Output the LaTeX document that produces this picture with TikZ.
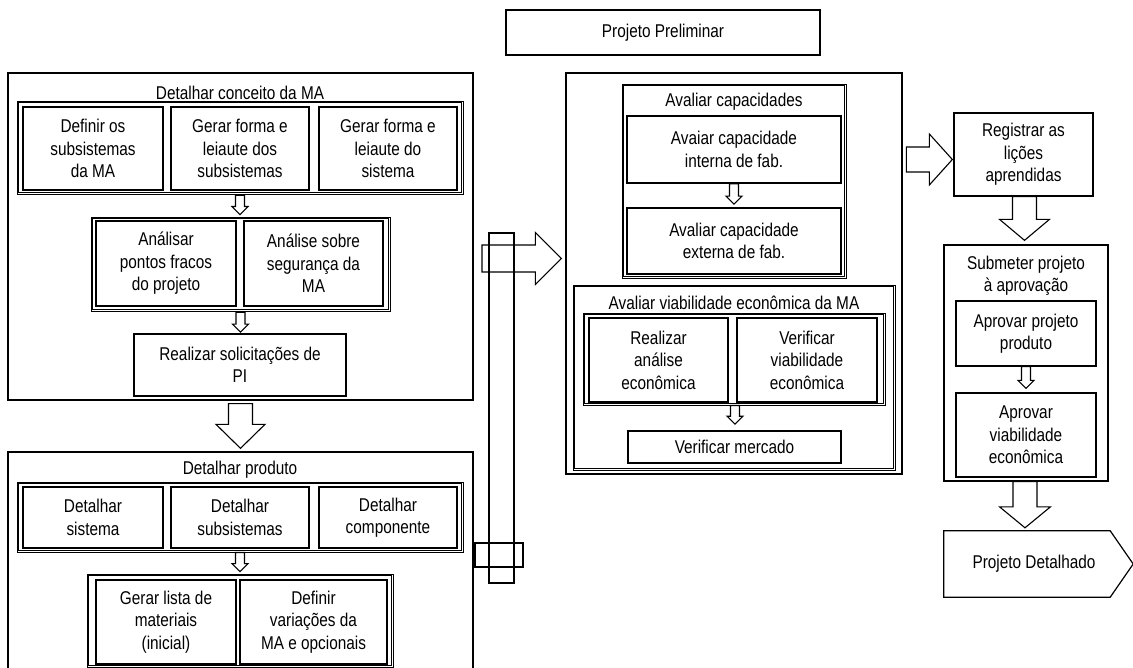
\documentclass[tikz,border=0pt]{standalone}
\usepackage{fontspec}
\setmainfont{Liberation Sans}[FakeStretch=0.83]
\usetikzlibrary{calc}

% rectangle node given by its corners: [style] {name} {x1} {y1} {x2} {y2} {text}
\newcommand{\boxnode}[7][]{%
  \node[#1, minimum width={#5-#3}, minimum height={#6-#4}]
    (#2) at ({(#3+#5)/2},{(#4+#6)/2}) {#7};}
% grouping frame drawn with a double border: {name} {x1} {y1} {x2} {y2}
\newcommand{\framenode}[5]{%
  \boxnode[groupframe]{#1}{#2}{#3}{#4}{#5}{}
  \draw[frameline] ([shift={(2.2,2.2)}]#1.north west) rectangle ([shift={(-2.2,-2.2)}]#1.south east);}
% hollow block arrow pointing down: start, tip, shaft half width, head half width, head length
\newcommand{\blockdown}[6][]{%
  \draw[blockarrow,#1] let \p1=#2, \p2=#3 in
    (\x1-#4pt,\y1) -- (\x1+#4pt,\y1) -- (\x1+#4pt,\y2+#6pt) -- (\x1+#5pt,\y2+#6pt)
    -- (\x1,\y2) -- (\x1-#5pt,\y2+#6pt) -- (\x1-#4pt,\y2+#6pt) -- cycle;}
% hollow block arrow pointing right: start, tip, shaft half width, head half width, head length
\newcommand{\blockright}[6][]{%
  \draw[blockarrow,#1] let \p1=#2, \p2=#3 in
    (\x1,\y1+#4pt) -- (\x2-#6pt,\y1+#4pt) -- (\x2-#6pt,\y1+#5pt) -- (\x2,\y1)
    -- (\x2-#6pt,\y1-#5pt) -- (\x2-#6pt,\y1-#4pt) -- (\x1,\y1-#4pt) -- cycle;}

\begin{document}
\begin{tikzpicture}[x=1pt,y=-1pt,
  every node/.style={font=\fontsize{18.5}{22.5}\selectfont, text=black},
  outerbox/.style={draw, line width=1.3pt, inner sep=0pt, align=center},
  groupframe/.style={draw, line width=0.9pt, inner sep=0pt},
  frameline/.style={line width=0.9pt},
  taskbox/.style={draw, line width=1.6pt, inner sep=0pt, align=center},
  titletext/.style={inner sep=0pt, align=center},
  blockarrow/.style={draw, fill=white, line width=1.1pt, line join=miter},
]
\useasboundingbox (0,0) rectangle (1133,668);

% ---------- left column: Detalhar conceito da MA ----------
\boxnode[outerbox]{b1}{8}{73}{473}{400}{}
\node[titletext] (t1) at (240,93) {Detalhar conceito da MA};
\framenode{g1}{17}{101}{463}{194}
\boxnode[taskbox]{a1}{23}{107}{163}{190}{Definir os\\subsistemas\\da MA}
\boxnode[taskbox]{a2}{171}{107}{309}{190}{Gerar forma e\\leiaute dos\\subsistemas}
\boxnode[taskbox]{a3}{319}{107}{457}{190}{Gerar forma e\\leiaute do\\sistema}
\framenode{g2}{91}{217}{390}{311}
\boxnode[taskbox]{a4}{96}{221}{236}{306}{Análisar\\pontos fracos\\do projeto}
\boxnode[taskbox]{a5}{244}{221}{383}{306}{Análise sobre\\segurança da\\MA}
\boxnode[taskbox]{a6}{134}{334}{346}{396}{Realizar solicitações de\\PI}

% ---------- left column: Detalhar produto ----------
\boxnode[outerbox]{b2}{8}{452}{473}{700}{}
\node[titletext] (t2) at (240,470) {Detalhar produto};
\framenode{g3}{17}{482}{463}{552}
\boxnode[taskbox]{c1}{23}{487}{163}{548}{Detalhar\\sistema}
\boxnode[taskbox]{c2}{171}{487}{309}{548}{Detalhar\\subsistemas}
\boxnode[taskbox]{c3}{319}{487}{457}{548}{Detalhar\\componente}
\framenode{g4}{87}{574}{393}{667}
\boxnode[taskbox]{c4}{96}{580}{236}{664}{Gerar lista de\\materiais\\(inicial)}
\boxnode[taskbox]{c5}{240}{580}{387}{664}{Definir\\variações da\\MA e opcionais}

\blockdown{($(g1.south)+(0,1)$)}{($(g2.north)+(0,-2)$)}{4.5}{8}{8}
\blockdown{($(g2.south)+(0,1)$)}{($(a6.north)+(0,-1)$)}{4.5}{8}{8}
\blockdown{($(b1.south)+(0,3)$)}{($(b2.north)+(0,-3)$)}{12}{24.5}{24}
\blockdown{($(g3.south)+(0,0)$)}{($(g4.north)+(0,-2)$)}{4.5}{8}{8}

% ---------- middle column ----------
\boxnode[outerbox]{pp}{506}{10}{820}{55}{Projeto Preliminar}
\boxnode[draw, line width=1.1pt, inner sep=0pt]{bar}{489}{233}{514}{583}{}
\boxnode[draw, line width=1.1pt, inner sep=0pt]{tab}{475}{543}{523}{567}{}

\boxnode[outerbox]{mid}{566}{73}{902}{474}{}
\framenode{gc}{622}{84}{846}{278}
\node[titletext] (tc) at (734,102) {Avaliar capacidades};
\boxnode[taskbox]{m1}{627}{116}{841}{183}{Avaiar capacidade\\interna de fab.}
\boxnode[taskbox]{m2}{627}{208}{841}{274}{Avaliar capacidade\\externa de fab.}
\framenode{gv}{573}{285}{895}{470}
\node[titletext] (tv) at (734,303) {Avaliar viabilidade econômica da MA};
\framenode{gvi}{583}{313}{885}{405}
\boxnode[taskbox]{m3}{589}{318}{728}{402}{Realizar\\análise\\econômica}
\boxnode[taskbox]{m4}{737}{318}{877}{402}{Verificar\\viabilidade\\econômica}
\boxnode[taskbox]{m5}{628}{431}{841}{463}{Verificar mercado}

\blockdown{($(m1.south)+(0,0)$)}{($(m2.north)+(0,-3)$)}{4.5}{8}{8}
\blockdown{($(gvi.south)+(1,0)$)}{($(m5.north)+(0,-6)$)}{4.5}{8}{8}

\coordinate (hstart) at (482,258.5);
\blockright[fill=none]{(hstart)}{($(mid.west |- hstart)+(-4,0)$)}{13.5}{26}{26}

% ---------- right column ----------
\boxnode[outerbox]{reg}{954}{113}{1093}{196}{Registrar as\\lições\\aprendidas}
\boxnode[outerbox]{sub}{944}{245}{1108}{481}{}
\node[titletext] (ts) at (1026,276) {Submeter projeto\\à aprovação};
\boxnode[outerbox]{r1}{956}{301}{1096}{366}{Aprovar projeto\\produto}
\boxnode[outerbox]{r2}{956}{393}{1096}{477}{Aprovar\\viabilidade\\econômica}
\boxnode[inner sep=0pt]{pd}{944}{531}{1110}{597}{}
\draw[line width=1.2pt, line join=miter] (pd.north west) -- (pd.north east) -- ($(pd.east)+(23,0)$)
  -- (pd.south east) -- (pd.south west) -- cycle;
\node[titletext] (pdt) at (1034,564) {Projeto Detalhado};

\blockright{($(reg.west)+(-47,5)$)}{($(reg.west)+(-1,5)$)}{12.5}{25.5}{23}
\blockdown{($(reg.south)+(1,0)$)}{($(sub.north)+(0,-4)$)}{12}{25}{21}
\blockdown{($(r1.south)+(0,0)$)}{($(r2.north)+(0,-4)$)}{4.5}{8}{8}
\blockdown{($(sub.south)+(-1,0)$)}{($(pd.north)+(0,-3)$)}{12}{25.5}{21}
\end{tikzpicture}
\end{document}
